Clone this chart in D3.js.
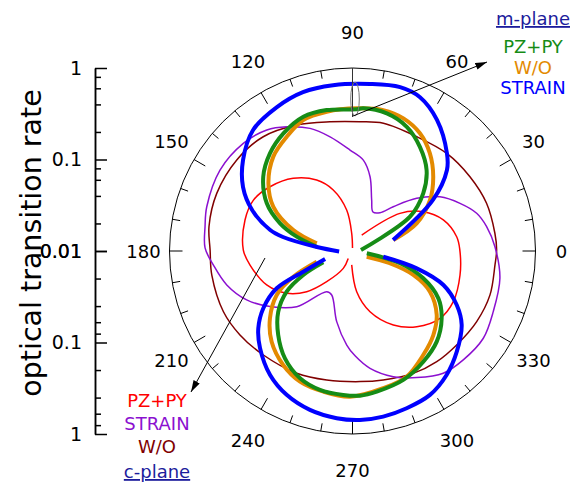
<!DOCTYPE html>
<html>
<head>
<meta charset="utf-8">
<script src="https://cdn.jsdelivr.net/npm/d3@7"></script>
<style>
  body { margin: 0; background: #fff; }
  text { font-family: "DejaVu Sans", sans-serif; }
</style>
</head>
<body>
<div class="container"></div>
<script>
// [angle in degrees (counter-clockwise from 0), optical transition rate]; null breaks the line
const pzpyC = [[90,0.0108],[92.6,0.0156],[98.1,0.0283],[107.5,0.0500],[116.8,0.0739],[129.2,0.106],[142.1,0.139],[152.8,0.165],[163.9,0.167],[179.5,0.156],[187.8,0.135],[201.6,0.102],[212.7,0.0715],[221.6,0.0467],[229.9,0.0274],[242,0.0164],[240,0.0124],
  null,
  [266.7,0.0142],[275.9,0.0280],[286.1,0.0490],[298.9,0.0838],[310.3,0.122],[322.4,0.161],[333.3,0.171],[347.4,0.160],[0.5,0.149],[7.8,0.141],[18.9,0.112],[29,0.0767],[38.4,0.0459],[60,0.0159]]

// closed loops
const strainC = [[1.7,0.361],[10.3,0.309],[16.9,0.262],[23.9,0.193],[31.8,0.133],[39.4,0.0809],[47.4,0.0455],[54.3,0.0328],[62.3,0.0303],[69.4,0.0394],[76.7,0.0682],[83.2,0.100],[91.4,0.127],[101.1,0.187],[109.1,0.262],[117.9,0.343],[125.3,0.417],[135.4,0.474],[148.6,0.497],[163.1,0.462],[170.6,0.430],[178.8,0.409],[185.7,0.338],[195.1,0.265],[204.8,0.188],[214,0.122],[225,0.0726],[237.6,0.0336],[244.7,0.0340],[257.4,0.0618],[266.5,0.107],[271.4,0.140],[278.5,0.198],[288,0.278],[296.9,0.356],[306.6,0.461],[315.5,0.498],[326.3,0.523],[336.7,0.473],[349.5,0.435]]

const woC = [[0.4,0.376],[7.1,0.370],[19.6,0.359],[32.3,0.330],[46,0.304],[60.7,0.271],[76.4,0.273],[86.7,0.260],[99.9,0.271],[113.9,0.320],[128,0.384],[141.8,0.407],[157,0.409],[170.3,0.390],[179.6,0.360],[189.7,0.363],[205.2,0.362],[216.7,0.342],[229.4,0.314],[245.5,0.294],[258.7,0.274],[273.3,0.269],[283.4,0.281],[296.4,0.311],[307.3,0.331],[318.1,0.341],[330.4,0.364],[342.3,0.378],[354.4,0.367]]

const woM = [[15.1,0.0290],[23.3,0.0580],[33.3,0.103],[42.6,0.158],[51.6,0.230],[60.2,0.304],[69,0.357],[77.7,0.377],[88.3,0.363],[100.5,0.353],[110.6,0.338],[119.9,0.276],[130,0.222],[141.2,0.151],[150.8,0.0979],[160.5,0.0485],[167.9,0.0251],
  null,
  [196.6,0.0256],[203.5,0.0507],[210.1,0.0906],[219.2,0.146],[228.3,0.213],[238.7,0.287],[248.1,0.345],[258.3,0.371],[269,0.391],[282.6,0.344],[293.3,0.313],[304.2,0.237],[313.9,0.188],[322.8,0.143],[332.3,0.0903],[338.5,0.0518],[341.8,0.0263],[338.1,0.0147]]

const pzpyM = [[6.7,0.0124],[30.8,0.0539],[39.2,0.0994],[47.5,0.158],[57.1,0.227],[66.4,0.303],[76,0.355],[85.7,0.366],[88.3,0.354],[100.4,0.368],[110.1,0.365],[120.4,0.310],[130.2,0.250],[140.2,0.186],[150.9,0.118],[159.1,0.0704],[165.6,0.0426],[173.2,0.0247],
  null,
  [201.2,0.0220],[206,0.0396],[211.7,0.0701],[219.3,0.112],[228.5,0.168],[237.8,0.243],[247.6,0.319],[256.8,0.362],[266.3,0.377],[273,0.383],[279.8,0.363],[291.5,0.327],[302.6,0.273],[312.9,0.225],[323,0.166],[331.1,0.118],[338.9,0.0675],[345.5,0.0344],[350.8,0.0144]]

const strainM = [[15.2,0.0288],[32.4,0.110],[40.6,0.229],[46,0.306],[57.2,0.506],[66.3,0.684],[73.8,0.732],[84,0.684],[96.7,0.667],[107.3,0.659],[117.7,0.598],[129.4,0.515],[140.3,0.359],[149.7,0.243],[157.8,0.153],[165.7,0.0848],[168.6,0.0596],[173.6,0.0246],[182,0.0140],
  null,
  [196.2,0.0205],[202.8,0.0383],[206.2,0.0838],[212.7,0.144],[219.4,0.215],[226.4,0.292],[236.4,0.424],[245.4,0.536],[255,0.628],[264.6,0.684],[272.5,0.705],[280.5,0.693],[289,0.657],[298.3,0.611],[307.2,0.502],[316,0.384],[325.9,0.276],[332.6,0.192],[339.5,0.115],[344.9,0.0533],[349.5,0.0220]]

const angleLabels = [0, 30, 60, 90, 120, 150, 180, 210, 240, 270, 300, 330]
const majorRates = [1, 0.1, 0.01]
const minorRates = [0.8, 0.6, 0.4, 0.2, 0.08, 0.06, 0.04, 0.02]
const mLegend = ["PZ+PY", "W/O", "STRAIN"]
const cLegend = ["PZ+PY", "STRAIN", "W/O"]

let width = 571
let height = 486
let cx = 352.5, cy = 251, R = 183

let svg = d3.select(".container")
  .append("svg")
  .attr("width", width)
  .attr("height", height)

let r = d3.scaleLog().domain([0.01, 1]).range([0, R]).clamp(true)
let rad = function (d) { return d * Math.PI / 180 }

// outer circle + angular ticks
svg.append("circle")
  .attr("cx", cx).attr("cy", cy).attr("r", R)
  .attr("fill", "none").attr("stroke", "#000").attr("stroke-width", 1)

svg.selectAll(".atick")
  .data(d3.range(0, 360, 10))
  .enter()
  .append("line")
  .attr("class", "atick")
  .attr("x1", function (d) { return cx + R * Math.cos(rad(d)) })
  .attr("y1", function (d) { return cy - R * Math.sin(rad(d)) })
  .attr("x2", function (d) { let l = d % 30 === 0 ? R - 13 : R - 8; return cx + l * Math.cos(rad(d)) })
  .attr("y2", function (d) { let l = d % 30 === 0 ? R - 13 : R - 8; return cy - l * Math.sin(rad(d)) })
  .attr("stroke", "#000")
  .attr("stroke-width", 1)

svg.selectAll(".alabel")
  .data(angleLabels)
  .enter()
  .append("text")
  .attr("class", "alabel")
  .attr("x", function (d) { return cx + 209 * Math.cos(rad(d)) })
  .attr("y", function (d) { return cy - 209 * Math.sin(rad(d)) - 10 * Math.sin(rad(d)) })
  .attr("text-anchor", "middle")
  .attr("dominant-baseline", "central")
  .attr("font-size", "18px")
  .text(function (d) { return d })

// radial axis on the left, mirrored about the centre
let yTop = d3.scaleLog().domain([0.01, 1]).range([cy, cy - R])
let yBot = d3.scaleLog().domain([0.01, 1]).range([cy, cy + R])

;[yTop, yBot].forEach(function (sc) {
  svg.append("g")
    .attr("transform", "translate(95,0)")
    .call(d3.axisLeft(sc).tickValues(minorRates).tickSize(-6).tickSizeOuter(0).tickFormat(""))
  svg.append("g")
    .attr("class", "raxis")
    .attr("transform", "translate(95,0)")
    .call(d3.axisLeft(sc).tickValues(majorRates).tickSize(-12).tickSizeOuter(0).tickPadding(13)
      .tickFormat(function (d) { return String(d) }))
})
svg.selectAll(".domain, .tick line").attr("stroke-width", 1.5)
svg.selectAll(".raxis text")
  .attr("font-family", "DejaVu Sans")
  .attr("font-size", "19px")
  .attr("fill", "#000")

svg.append("text")
  .attr("transform", "translate(41,243) rotate(-90)")
  .attr("text-anchor", "middle")
  .attr("font-size", "28.5px")
  .text("optical transition rate")

// curves
let px = function (d) { return cx + r(d[1]) * Math.cos(rad(d[0])) }
let py = function (d) { return cy - r(d[1]) * Math.sin(rad(d[0])) }
let openLine = d3.line()
  .defined(function (d) { return d !== null })
  .x(px).y(py)
  .curve(d3.curveCatmullRom.alpha(0.5))
let closedLine = d3.line()
  .x(px).y(py)
  .curve(d3.curveCatmullRomClosed.alpha(0.5))

let curves = [
  { data: woC, closed: true, color: "#800000", w: 1.5 },
  { data: strainC, closed: true, color: "#8b10d0", w: 1.5 },
  { data: pzpyC, closed: false, color: "#ff0000", w: 1.5 },
  { data: woM, closed: false, color: "#e38a00", w: 4 },
  { data: pzpyM, closed: false, color: "#168c16", w: 4 },
  { data: strainM, closed: false, color: "#0000ff", w: 4 }
]
svg.selectAll(".curve")
  .data(curves)
  .enter()
  .append("path")
  .attr("class", "curve")
  .attr("d", function (d) { return d.closed ? closedLine(d.data) : openLine(d.data) })
  .attr("fill", "none")
  .attr("stroke", function (d) { return d.color })
  .attr("stroke-width", function (d) { return d.w })
  .attr("stroke-linejoin", "round")

// annotations
svg.append("defs").append("marker")
  .attr("id", "head")
  .attr("viewBox", "0 0 10 6")
  .attr("refX", 10).attr("refY", 3)
  .attr("markerWidth", 12).attr("markerHeight", 7)
  .attr("markerUnits", "userSpaceOnUse")
  .attr("orient", "auto")
  .append("path")
  .attr("d", "M0,0L10,3L0,6Z")
  .attr("fill", "#000")

svg.append("line")
  .attr("x1", cx).attr("y1", cy - R).attr("x2", cx).attr("y2", 117)
  .attr("stroke", "#333").attr("stroke-width", 1)
svg.append("ellipse")
  .attr("cx", 355).attr("cy", 99).attr("rx", 4.3).attr("ry", 17)
  .attr("fill", "none").attr("stroke", "#777").attr("stroke-width", 1)
svg.append("line")
  .attr("x1", 353).attr("y1", 116).attr("x2", 487).attr("y2", 62)
  .attr("stroke", "#000").attr("stroke-width", 1)
  .attr("marker-end", "url(#head)")
svg.append("line")
  .attr("x1", 265).attr("y1", 258).attr("x2", 191).attr("y2", 392)
  .attr("stroke", "#000").attr("stroke-width", 1)
  .attr("marker-end", "url(#head)")

// legends
svg.append("text")
  .attr("x", 533).attr("y", 25)
  .attr("text-anchor", "middle").attr("font-size", "18px")
  .attr("fill", "#1c1c9c").style("text-decoration", "underline")
  .text("m-plane")
let mColors = ["#168c16", "#e38a00", "#0000ff"]
svg.selectAll(".mleg")
  .data(mLegend)
  .enter()
  .append("text")
  .attr("class", "mleg")
  .attr("x", 533)
  .attr("y", function (d, i) { return 53 + i * 20.5 })
  .attr("text-anchor", "middle").attr("font-size", "18px")
  .attr("fill", function (d, i) { return mColors[i] })
  .text(function (d) { return d })

let cColors = ["#ff0000", "#8b10d0", "#800000"]
svg.selectAll(".cleg")
  .data(cLegend)
  .enter()
  .append("text")
  .attr("class", "cleg")
  .attr("x", 157)
  .attr("y", function (d, i) { return 407 + i * 23 })
  .attr("text-anchor", "middle").attr("font-size", "18px")
  .attr("fill", function (d, i) { return cColors[i] })
  .text(function (d) { return d })
svg.append("text")
  .attr("x", 157).attr("y", 478)
  .attr("text-anchor", "middle").attr("font-size", "18px")
  .attr("fill", "#1c1c9c").style("text-decoration", "underline")
  .text("c-plane")
</script>
</body>
</html>
